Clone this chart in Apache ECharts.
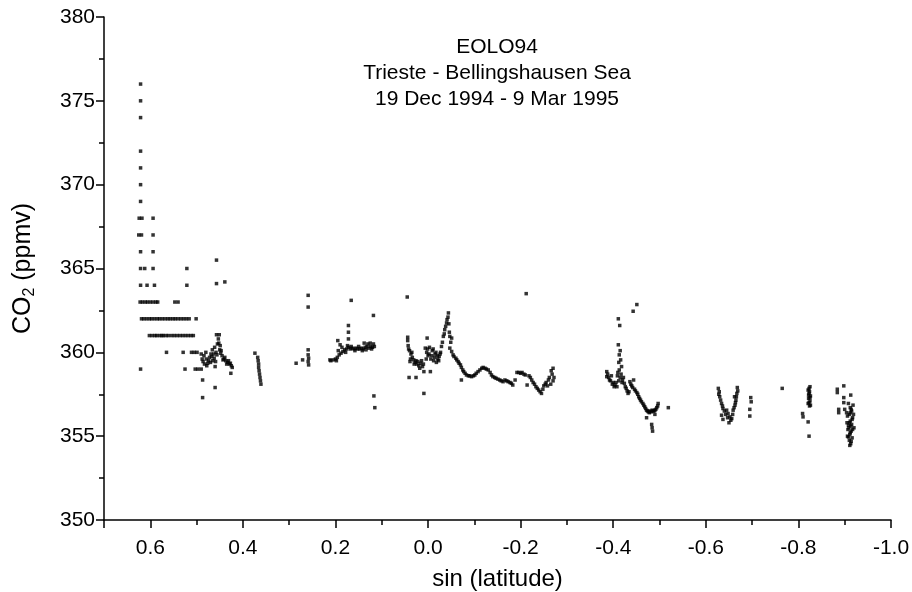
<!DOCTYPE html>
<html>
<head>
<meta charset="utf-8">
<script src="https://cdn.jsdelivr.net/npm/echarts@6/dist/echarts.min.js"></script>
<style>
  html, body { margin: 0; background: #fff; }
  #chart { width: 912px; height: 592px; }
</style>
</head>
<body>
<div id="chart"></div>
<script>
// CO2 (ppmv) vs sin(latitude), EOLO94 cruise. [sinLat, co2] pairs, grouped by stretch of track.
const rows62 = [
  [0.621, 376], [0.621, 375], [0.621, 374], [0.621, 372], [0.621, 371], [0.621, 370], [0.621, 369],
  [0.624, 368], [0.618, 368], [0.594, 368],
  [0.625, 367], [0.619, 367], [0.594, 367],
  [0.621, 366], [0.594, 366],
  [0.621, 365], [0.612, 365], [0.594, 365], [0.521, 365],
  [0.621, 364], [0.607, 364], [0.591, 364], [0.521, 364],
  [0.622, 363], [0.617, 363], [0.611, 363], [0.606, 363], [0.600, 363], [0.594, 363], [0.588, 363], [0.584, 363], [0.547, 363], [0.540, 363],
  [0.619, 362], [0.614, 362], [0.608, 362], [0.602, 362], [0.597, 362], [0.591, 362], [0.585, 362], [0.580, 362], [0.574, 362],
  [0.568, 362], [0.562, 362], [0.557, 362], [0.551, 362], [0.546, 362], [0.540, 362], [0.534, 362], [0.528, 362], [0.522, 362],
  [0.516, 362], [0.501, 362],
  [0.602, 361], [0.596, 361], [0.590, 361], [0.586, 361], [0.580, 361], [0.575, 361], [0.572, 361], [0.566, 361], [0.561, 361],
  [0.554, 361], [0.548, 361], [0.542, 361], [0.536, 361], [0.530, 361], [0.524, 361], [0.518, 361], [0.512, 361], [0.507, 361],
  [0.565, 360], [0.529, 360], [0.511, 360], [0.505, 360], [0.499, 360],
  [0.621, 359], [0.525, 359], [0.503, 359], [0.497, 359], [0.490, 359]
];
const band45 = [
  [0.487, 358.35], [0.487, 357.3], [0.460, 357.9], [0.486, 359.45], [0.483, 359.3], [0.479, 359.6], [0.476, 359.35], [0.480, 360.0],
  [0.472, 359.7], [0.469, 359.9], [0.466, 360.15], [0.465, 359.5], [0.462, 359.65], [0.459, 359.45], [0.456, 359.85], [0.460, 359.15],
  [0.457, 361.05], [0.451, 361.05], [0.452, 360.55], [0.450, 360.15], [0.448, 359.95], [0.445, 359.8], [0.441, 359.6],
  [0.437, 359.5], [0.433, 359.4], [0.429, 359.3], [0.425, 359.2], [0.426, 358.75],
  [0.490, 359.9], [0.488, 359.6], [0.484, 359.8], [0.478, 359.2], [0.474, 359.5], [0.470, 359.4], [0.467, 359.75], [0.463, 359.9],
  [0.461, 360.3], [0.458, 360.0], [0.455, 360.5], [0.453, 360.8], [0.449, 360.4], [0.447, 360.1], [0.443, 359.55], [0.439, 359.7],
  [0.435, 359.3], [0.431, 359.5], [0.427, 359.35], [0.423, 359.1],
  [0.457, 365.5], [0.457, 364.1], [0.439, 364.2]
];
const band37 = [
  [0.374, 359.95], [0.368, 359.7], [0.367, 359.5], [0.366, 359.3], [0.366, 359.1], [0.365, 358.9],
  [0.364, 358.7], [0.363, 358.5], [0.362, 358.3], [0.361, 358.1]
];
const band27 = [
  [0.285, 359.35], [0.271, 359.55], [0.259, 363.4], [0.259, 362.7], [0.259, 360.15], [0.259, 359.85],
  [0.258, 359.65], [0.259, 359.45], [0.258, 359.25]
];
const band16 = [
  [0.212, 359.55], [0.205, 359.55], [0.200, 359.6], [0.196, 359.7], [0.192, 359.85], [0.188, 359.95], [0.184, 360.05],
  [0.180, 360.15], [0.176, 360.2], [0.172, 360.3], [0.168, 360.2], [0.164, 360.25], [0.160, 360.2], [0.156, 360.25],
  [0.152, 360.2], [0.148, 360.2], [0.144, 360.25], [0.140, 360.2], [0.136, 360.3], [0.132, 360.35], [0.128, 360.25],
  [0.124, 360.35], [0.120, 360.3], [0.116, 360.35],
  [0.210, 359.5], [0.198, 359.5], [0.194, 360.1], [0.186, 360.3], [0.178, 360.0], [0.174, 360.4], [0.166, 360.35],
  [0.158, 360.1], [0.150, 360.35], [0.142, 360.1], [0.134, 360.15], [0.130, 360.5], [0.122, 360.2], [0.118, 360.5],
  [0.195, 360.7], [0.190, 360.45], [0.172, 361.6], [0.172, 361.2], [0.172, 360.8], [0.166, 363.1], [0.138, 360.55],
  [0.125, 360.55], [0.118, 362.2], [0.117, 357.4], [0.115, 356.7]
];
const band0 = [
  [0.045, 363.3], [0.044, 360.9], [0.044, 360.7], [0.043, 360.4], [0.040, 360.1], [0.037, 359.9], [0.034, 359.7],
  [0.039, 359.45], [0.031, 359.55], [0.028, 359.4], [0.024, 359.3], [0.020, 359.2], [0.016, 359.35], [0.012, 359.15],
  [0.009, 358.85], [0.041, 358.5], [0.026, 358.5], [0.009, 357.55],
  [0.042, 360.2], [0.038, 359.6], [0.035, 360.0], [0.030, 359.3], [0.026, 359.5], [0.022, 359.45], [0.018, 359.05], [0.014, 359.5],
  [0.010, 359.3], [0.004, 359.6], [0.001, 360.2], [-0.002, 359.9], [-0.008, 359.8], [-0.011, 360.2], [-0.014, 359.7],
  [-0.017, 360.0], [-0.020, 359.8], [-0.023, 359.5], [-0.026, 359.9],
  [0.002, 360.85], [0.006, 360.25], [0.003, 360.0], [0.000, 359.8], [-0.003, 360.3], [-0.006, 359.6], [-0.009, 360.1],
  [-0.012, 359.5], [-0.015, 359.9], [-0.018, 359.4], [-0.005, 358.85],
  [-0.021, 359.6], [-0.024, 359.75], [-0.027, 360.0], [-0.029, 360.35], [-0.031, 360.6], [-0.033, 360.95], [-0.035, 361.1],
  [-0.036, 361.35], [-0.038, 361.55], [-0.040, 361.75], [-0.041, 361.95], [-0.043, 362.1], [-0.044, 362.35],
  [-0.045, 361.7], [-0.046, 361.2], [-0.047, 360.95], [-0.051, 360.85], [-0.049, 360.6], [-0.047, 360.25], [-0.051, 360.05],
  [-0.054, 359.85], [-0.056, 359.75], [-0.060, 359.65], [-0.062, 359.55], [-0.065, 359.45], [-0.067, 359.35], [-0.070, 359.25],
  [-0.072, 359.1], [-0.075, 358.95], [-0.077, 358.85], [-0.072, 358.35],
  [-0.080, 358.75], [-0.083, 358.65], [-0.087, 358.6], [-0.090, 358.6], [-0.094, 358.55], [-0.098, 358.6], [-0.101, 358.65],
  [-0.104, 358.75], [-0.108, 358.85], [-0.112, 358.95], [-0.116, 359.05], [-0.119, 359.1], [-0.123, 359.05], [-0.126, 359.0],
  [-0.130, 358.95], [-0.134, 358.8], [-0.137, 358.65], [-0.140, 358.55], [-0.144, 358.5], [-0.147, 358.45], [-0.151, 358.4],
  [-0.155, 358.35], [-0.158, 358.3], [-0.162, 358.25], [-0.166, 358.35], [-0.170, 358.3], [-0.173, 358.25], [-0.177, 358.2],
  [-0.180, 358.15], [-0.183, 358.05], [-0.188, 358.35],
  [-0.192, 358.8], [-0.196, 358.8], [-0.200, 358.75], [-0.203, 358.8], [-0.207, 358.7], [-0.210, 358.65], [-0.214, 358.05],
  [-0.218, 358.6], [-0.221, 358.5], [-0.224, 358.35], [-0.227, 358.2], [-0.230, 358.1], [-0.233, 357.95], [-0.236, 357.85],
  [-0.239, 357.75], [-0.242, 357.65], [-0.245, 357.55], [-0.248, 357.8],
  [-0.250, 358.0], [-0.253, 358.1], [-0.255, 358.2], [-0.258, 358.0], [-0.260, 358.35], [-0.262, 358.5], [-0.265, 358.1],
  [-0.266, 358.9], [-0.268, 358.7], [-0.270, 359.05], [-0.270, 358.3], [-0.272, 358.5],
  [-0.212, 363.5]
];
const band44 = [
  [-0.411, 362.0], [-0.414, 361.6], [-0.443, 362.45], [-0.451, 362.85],
  [-0.411, 360.45], [-0.415, 360.1], [-0.413, 359.85], [-0.416, 359.55], [-0.412, 359.4], [-0.418, 359.15], [-0.413, 358.95],
  [-0.386, 358.85], [-0.386, 358.55], [-0.388, 358.7], [-0.390, 358.5], [-0.392, 358.35], [-0.394, 358.3], [-0.396, 358.6],
  [-0.398, 358.1], [-0.400, 358.2], [-0.402, 357.95], [-0.404, 358.05], [-0.406, 358.2], [-0.408, 357.95], [-0.409, 358.6],
  [-0.410, 358.8], [-0.412, 358.3], [-0.415, 358.5], [-0.417, 358.7], [-0.419, 358.2], [-0.420, 358.35], [-0.422, 358.5],
  [-0.424, 358.15], [-0.426, 357.95], [-0.428, 357.85], [-0.430, 357.7], [-0.432, 357.55], [-0.434, 357.65], [-0.436, 358.25],
  [-0.438, 358.1], [-0.440, 358.0], [-0.442, 357.9], [-0.444, 358.35], [-0.446, 357.8], [-0.448, 357.7],
  [-0.451, 357.6], [-0.453, 357.5], [-0.455, 357.35], [-0.457, 357.25], [-0.459, 357.15], [-0.461, 357.05], [-0.464, 356.95],
  [-0.466, 356.85], [-0.468, 356.75], [-0.470, 356.65], [-0.472, 356.55], [-0.474, 356.5], [-0.476, 356.45], [-0.478, 356.4],
  [-0.479, 356.5], [-0.482, 356.45], [-0.484, 356.55], [-0.486, 356.5], [-0.488, 356.5], [-0.490, 356.55], [-0.492, 356.6],
  [-0.494, 356.7], [-0.496, 356.8], [-0.497, 356.95],
  [-0.490, 356.3], [-0.472, 356.1], [-0.483, 355.7], [-0.484, 355.5], [-0.485, 355.3],
  [-0.519, 356.7]
];
const band65 = [
  [-0.627, 357.85], [-0.628, 357.5], [-0.629, 357.65], [-0.630, 357.35], [-0.632, 357.15], [-0.634, 356.95], [-0.636, 356.8],
  [-0.637, 356.65], [-0.640, 356.5], [-0.634, 356.25], [-0.637, 356.0], [-0.643, 356.3],
  [-0.645, 356.55], [-0.647, 356.1], [-0.648, 356.35], [-0.652, 356.15], [-0.650, 355.8], [-0.654, 355.95], [-0.656, 356.05],
  [-0.658, 356.3], [-0.659, 356.55], [-0.661, 356.7], [-0.663, 356.85], [-0.664, 357.0], [-0.665, 357.15], [-0.666, 357.35],
  [-0.667, 357.55], [-0.669, 357.7], [-0.668, 357.9], [-0.662, 357.35],
  [-0.697, 357.3], [-0.698, 357.05], [-0.695, 356.6], [-0.695, 356.2],
  [-0.765, 357.85]
];
const band85 = [
  [-0.825, 357.95], [-0.823, 357.85], [-0.821, 357.75], [-0.824, 357.65], [-0.823, 357.55], [-0.822, 357.45], [-0.826, 357.4],
  [-0.825, 357.3], [-0.822, 357.25], [-0.825, 357.1], [-0.823, 357.0], [-0.821, 356.95], [-0.826, 356.85], [-0.824, 356.8],
  [-0.809, 356.35], [-0.810, 356.15], [-0.821, 355.85], [-0.823, 355.0],
  [-0.898, 358.0], [-0.884, 357.8], [-0.884, 357.6], [-0.913, 357.45], [-0.898, 357.3], [-0.898, 357.0], [-0.908, 356.95],
  [-0.918, 356.85], [-0.887, 356.6], [-0.887, 356.4], [-0.900, 356.6],
  [-0.912, 356.7], [-0.914, 356.6], [-0.915, 356.5], [-0.904, 356.4], [-0.912, 356.4], [-0.910, 356.3], [-0.919, 356.3],
  [-0.906, 356.2], [-0.917, 356.1], [-0.916, 356.0], [-0.912, 355.9], [-0.910, 355.8], [-0.905, 355.8], [-0.915, 355.7],
  [-0.908, 355.65], [-0.913, 355.6], [-0.909, 355.5], [-0.920, 355.5], [-0.917, 355.4], [-0.907, 355.4], [-0.914, 355.3],
  [-0.912, 355.2], [-0.911, 355.1], [-0.906, 355.0], [-0.908, 354.95], [-0.916, 354.9], [-0.910, 354.75], [-0.914, 354.7],
  [-0.913, 354.55], [-0.911, 354.45]
];

const titleLines = ['EOLO94', 'Trieste - Bellingshausen Sea', '19 Dec 1994 - 9 Mar 1995'];
const xRange = [-1.0, 0.7];
const yRange = [350, 380];

const FONT = '"Liberation Sans", Arial, sans-serif';
const INK = '#000';
const points = [].concat(rows62, band45, band37, band27, band16, band0, band44, band65, band85);

const chart = echarts.init(document.getElementById('chart'));

chart.setOption({
  animation: false,
  backgroundColor: '#fff',
  textStyle: { fontFamily: FONT, color: INK },
  grid: { left: 104, right: 21, top: 17, bottom: 72, outerBoundsMode: 'none' },
  graphic: titleLines.map((t, i) => ({
    type: 'text', x: 497, y: 47 + i * 26,
    style: { text: t, fill: INK, font: '21px ' + FONT, textAlign: 'center', textVerticalAlign: 'middle' }
  })),
  xAxis: [
    {
      type: 'value', min: xRange[0], max: xRange[1], interval: 0.2, inverse: true,
      name: 'sin (latitude)', nameLocation: 'middle', nameGap: 47,
      nameTextStyle: { fontSize: 24, color: INK, fontFamily: FONT },
      axisLine: { onZero: false, lineStyle: { color: INK, width: 1.5 } },
      axisTick: { length: 8, lineStyle: { color: INK, width: 1.5 } },
      axisLabel: {
        fontSize: 21, color: INK, margin: 18, fontFamily: FONT,
        formatter: (v) => (Math.abs(v - 0.7) < 1e-6 ? '' : (Math.abs(v) < 1e-9 ? 0 : v).toFixed(1))
      },
      splitLine: { show: false }
    },
    {
      // minor ticks every 0.1
      type: 'value', min: xRange[0], max: xRange[1], interval: 0.1, inverse: true, position: 'bottom',
      axisLine: { show: false, onZero: false },
      axisTick: { length: 5, lineStyle: { color: INK, width: 1.5 } },
      axisLabel: { show: false },
      splitLine: { show: false }
    }
  ],
  yAxis: {
    type: 'value', min: yRange[0], max: yRange[1], interval: 5,
    name: '{a|CO}{b|2}{a| (ppmv)}', nameLocation: 'middle', nameGap: 66,
    nameTextStyle: {
      rich: {
        a: { fontSize: 25, fontFamily: FONT, color: INK, lineHeight: 30, verticalAlign: 'middle' },
        b: { fontSize: 16, fontFamily: FONT, color: INK, lineHeight: 16, verticalAlign: 'bottom' }
      }
    },
    axisLine: { show: true, onZero: false, lineStyle: { color: INK, width: 1.5 } },
    axisTick: { length: 8, lineStyle: { color: INK, width: 1.5 } },
    minorTick: { show: true, splitNumber: 2, length: 5, lineStyle: { color: INK, width: 1.5 } },
    axisLabel: { fontSize: 21, color: INK, margin: 9, fontFamily: FONT },
    splitLine: { show: false },
    minorSplitLine: { show: false }
  },
  series: [{
    type: 'scatter',
    xAxisIndex: 0,
    data: points,
    symbol: 'rect',
    symbolSize: 3.5,
    itemStyle: { color: '#000' },
    silent: true
  }]
});
</script>
</body>
</html>
